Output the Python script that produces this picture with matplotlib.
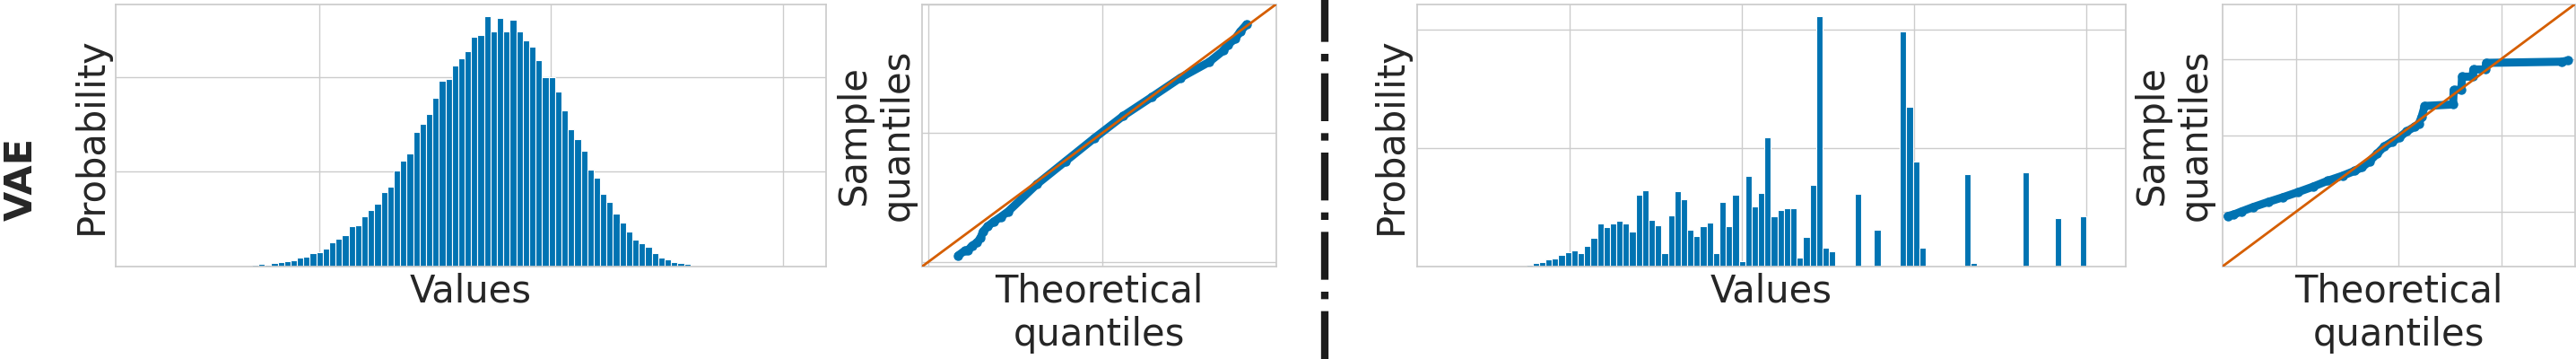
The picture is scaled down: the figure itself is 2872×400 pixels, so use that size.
import numpy as np
import matplotlib
matplotlib.use("Agg")
import matplotlib.pyplot as plt
from matplotlib.lines import Line2D

# ---------------- data ----------------
row_label = "VAE"

# left histogram (VAE latent values), probability per bin
vae_hist_prob = [0.00009, 0.0, 0.00016, 0.00025, 0.00016, 0.00035, 0.00044, 0.00054, 0.00063,
                 0.00092, 0.00101, 0.00139, 0.00149, 0.00187, 0.00253, 0.00291, 0.00329, 0.00424,
                 0.00434, 0.00528, 0.00595, 0.00661, 0.00785, 0.00842, 0.01013, 0.01117, 0.01193,
                 0.01421, 0.01506, 0.01611, 0.01782, 0.01962, 0.01981, 0.02123, 0.02199, 0.02275,
                 0.02427, 0.02446, 0.02636, 0.02475, 0.02617, 0.02475, 0.02598, 0.02475, 0.02389,
                 0.02323, 0.02180, 0.02000, 0.02000, 0.01848, 0.01649, 0.01449, 0.01345, 0.01222,
                 0.01022, 0.00937, 0.00766, 0.00680, 0.00557, 0.00462, 0.00367, 0.00282, 0.00244,
                 0.00206, 0.00139, 0.00092, 0.00073, 0.00044, 0.00035, 0.00025, 0.00009, 0.00009]
vae_bin_start = -1.345
vae_bin_width = 0.0278

# right histogram, probability per bin
other_hist_prob = [0.00008, 0.00015, 0.0003, 0.00038, 0.00061, 0.00069, 0.00099, 0.00122, 0.00137,
                   0.00114, 0.00175, 0.00244, 0.00365, 0.00335, 0.00365, 0.00388, 0.00365, 0.00297,
                   0.00609, 0.00647, 0.00396, 0.0035, 0.00114, 0.00434, 0.0064, 0.00571, 0.00312,
                   0.00259, 0.00343, 0.00373, 0.00114, 0.00548, 0.00343, 0.00609, 0.00046, 0.00769,
                   0.0051, 0.00624, 0.01096, 0.00426, 0.0048, 0.00495, 0.00495, 0.00076, 0.00251,
                   0.00693, 0.02114, 0.0016, 0.00129, 0.0, 0.0, 0.0, 0.00617, 0.0, 0.0, 0.00312,
                   0.0, 0.0, 0.0, 0.01987, 0.01348, 0.00888, 0.0016, 0.0, 0.0, 0.0, 0.0, 0.0, 0.0,
                   0.00784, 0.0003, 0.0, 0.0, 0.0, 0.0, 0.0, 0.0, 0.0, 0.00797, 0.0, 0.00008, 0.0,
                   0.0, 0.00409, 0.0, 0.0, 0.0, 0.00426]
other_bin_start = -1.291
other_bin_width = 0.03742

# QQ plot (left): theoretical vs sample quantiles
qq_vae_theoretical = [-3.306, -3.154, -3.088, -2.990, -2.877, -2.791, -2.745, -2.626, -2.494,
                      -2.329, -2.164, -1.504, -0.844, -0.184, 0.476, 1.136, 1.796, 2.456,
                      2.786, 2.885, 3.050, 3.168, 3.313]
qq_vae_sample = [-3.794, -3.645, -3.640, -3.491, -3.400, -3.239, -3.063, -2.884, -2.750,
                 -2.597, -2.436, -1.590, -0.876, -0.161, 0.525, 1.114, 1.713, 2.203,
                 2.560, 2.739, 2.918, 3.141, 3.363]

# QQ plot (right)
qq_other_theoretical = [-3.336, -3.219, -3.074, -2.841, -2.550, -2.259, -1.967, -1.676, -1.385,
                        -1.094, -0.861, -0.716, -0.570, -0.424, -0.279, -0.133, 0.012, 0.158,
                        0.303, 0.391, 0.449, 0.507, 1.060, 1.072, 1.223, 1.235, 1.439, 1.456,
                        1.689, 1.707, 3.185, 3.302]
qq_other_sample = [-2.118, -2.078, -2.000, -1.882, -1.749, -1.624, -1.490, -1.349, -1.192,
                   -1.059, -0.933, -0.839, -0.682, -0.486, -0.290, -0.173, -0.055, 0.102,
                   0.220, 0.298, 0.494, 0.769, 0.808, 1.184, 1.200, 1.537, 1.537, 1.725,
                   1.725, 1.898, 1.929, 1.961]

# ---------------- style ----------------
BLUE = "#0173b2"
ORANGE = "#d55e00"
TEXT = "#262626"
plt.rcParams.update({
    "font.family": ["DejaVu Sans"],
    "axes.edgecolor": "#cccccc",
    "axes.linewidth": 1.25,
    "axes.grid": True,
    "axes.axisbelow": True,
    "grid.color": "#cccccc",
    "grid.linewidth": 1.0,
    "text.color": TEXT,
    "axes.labelcolor": TEXT,
    "xtick.major.size": 0,
    "ytick.major.size": 0,
})

W, H = 2872, 400
fig = plt.figure(figsize=(W / 100, H / 100), dpi=100)


def add_ax(left, right, top=4.5, bottom=297.0):
    return fig.add_axes([left / W, (H - bottom) / H, (right - left) / W, (bottom - top) / H])


ax1 = add_ax(129, 921)
ax2 = add_ax(1028, 1423)
ax3 = add_ax(1580, 2370)
ax4 = add_ax(2477.7, 2871)

FS = 30


def hist_panel(ax, probs, start, width, xticks, xlim):
    probs = np.asarray(probs)
    edges = start + width * np.arange(len(probs))
    ax.bar(edges, probs, width=width, align="edge", color=BLUE,
           edgecolor="white", linewidth=0.8)
    ax.set_xlim(*xlim)
    ax.set_ylim(0, probs.max() * 1.05)
    ax.set_xticks(xticks)
    ax.set_yticks([0, 0.01, 0.02])
    ax.set_xticklabels([])
    ax.set_yticklabels([])
    ax.set_xlabel("Values", fontsize=FS)
    ax.set_ylabel("Probability", fontsize=FS)


def qq_panel(ax, theo, samp, ticks, lim):
    ax.plot(theo, samp, color=BLUE, lw=6.5, solid_capstyle="round",
            solid_joinstyle="round", marker="o", markersize=6.5, zorder=2)
    ax.axline((0, 0), slope=1, color=ORANGE, lw=2.0, zorder=3)
    ax.set_xlim(*lim)
    ax.set_ylim(*lim)
    ax.set_xticks(ticks)
    ax.set_yticks(ticks)
    ax.set_xticklabels([])
    ax.set_yticklabels([])
    ax.set_xlabel("Theoretical\nquantiles", fontsize=FS)
    ax.set_ylabel("Sample\nquantiles", fontsize=FS)


hist_panel(ax1, vae_hist_prob, vae_bin_start, vae_bin_width, [-1, 0, 1], (-1.876, 1.1855))
qq_panel(ax2, qq_vae_theoretical, qq_vae_sample, [-4, 0, 4], (-4.14, 3.69))
hist_panel(ax3, other_hist_prob, other_bin_start, other_bin_width, [-1, 0, 1, 2], (-1.887, 2.229))
qq_panel(ax4, qq_other_theoretical, qq_other_sample, [-2, 0, 2], (-3.44, 3.44))

# label positions (pixel offsets from axes edges)
for ax, (l, r), ypad in [(ax1, (129, 921), -6), (ax2, (1028, 1423), -6),
                         (ax3, (1580, 2370), -8), (ax4, (2477.7, 2871), -9)]:
    wpx = r - l
    ax.yaxis.set_label_coords(ypad / wpx, 0.5)
    ax.xaxis.set_label_coords(0.5, -6.7 / 292.5)

# row label
fig.text(24 / W, 0.5, row_label, rotation=90, fontsize=31, fontweight="bold",
         ha="center", va="center", color=TEXT)

# separator between the two halves
fig.add_artist(Line2D([1477 / W, 1477 / W], [0, 1], transform=fig.transFigure,
                      color="#1c1c1c", lw=6, linestyle="-."))

fig.savefig("out.png", dpi=100)
